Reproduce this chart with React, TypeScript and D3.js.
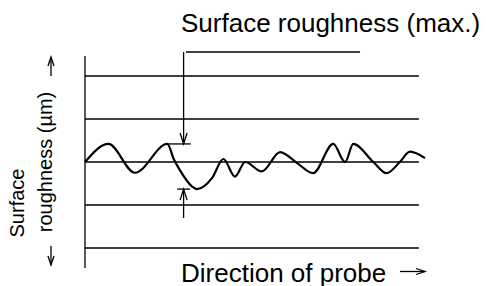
import React from 'react';
import * as d3 from 'd3';

// probe position (0..100) and surface height (grid units)
const probePos = [0, 6.9, 14.7, 24.2, 26.2, 27.9, 31.5, 33, 37.4, 40.7, 44.1, 47.1, 52, 57.4, 62.3, 67.1, 73, 76.5, 78.9, 84.8, 88.7, 92.6, 95.6, 100];
const profileHeight = [0, 0.42, -0.25, 0.42, 0.05, -0.19, -0.57, -0.63, -0.37, 0.07, -0.34, 0, -0.22, 0.23, -0.02, -0.26, 0.42, 0, 0.42, 0, -0.26, 0, 0.24, 0.09];

const gridLevels = [2, 1, 0, -1, -2];
const titleText = 'Surface roughness (max.)';
const xLabel = 'Direction of probe';
const yLabel1 = 'Surface';
const yLabel2 = 'roughness (\u00b5m)';

const W = 486, H = 286;
const FONT = '"Liberation Sans", Arial, sans-serif';

export default function App() {
  const x = d3.scaleLinear().domain([0, 100]).range([85, 425]);
  const y = d3.scaleLinear().domain([-2, 2]).range([248, 76]);

  const pts: [number, number][] = probePos.map((p, i) => [p, profileHeight[i]]);
  const line = d3.line<[number, number]>()
    .x(d => x(d[0]))
    .y(d => y(d[1]))
    .curve(d3.curveMonotoneX);

  const maxH = d3.max(profileHeight) as number;
  const minH = d3.min(profileHeight) as number;
  const markX = x(29);

  // open V arrow head, tip at (tx,ty), direction 'up' | 'down' | 'right'
  const head = (tx: number, ty: number, dir: string, len = 11, half = 3.5) => {
    if (dir === 'down') return `M${tx - half},${ty - len}L${tx},${ty}L${tx + half},${ty - len}`;
    if (dir === 'up') return `M${tx - half},${ty + len}L${tx},${ty}L${tx + half},${ty + len}`;
    return `M${tx - len},${ty - half}L${tx},${ty}L${tx - len},${ty + half}`;
  };

  return (
    <svg width={W} height={H} style={{ position: 'absolute', left: 0, top: 0, background: '#fff' }}>
      <g stroke="#000" fill="none">
        {/* vertical axis */}
        <line x1={x(0)} x2={x(0)} y1={56} y2={268} strokeWidth={1.3} />
        {gridLevels.map(l => (
          <line key={l} x1={x(0)} x2={x(98.2)} y1={y(l)} y2={y(l)} strokeWidth={1.3} />
        ))}

        {/* profile trace */}
        <path d={line(pts) || ''} strokeWidth={2.2} strokeLinejoin="round" />

        {/* max roughness markers */}
        <line x1={x(24.1)} x2={x(31.1)} y1={y(maxH)} y2={y(maxH)} strokeWidth={1.3} />
        <line x1={x(27.1)} x2={x(30.9)} y1={y(minH)} y2={y(minH)} strokeWidth={1.3} />
        <line x1={markX} x2={markX} y1={52} y2={y(maxH)} strokeWidth={1.3} />
        <path d={head(markX, y(maxH), 'down')} strokeWidth={1.3} />
        <line x1={markX} x2={markX} y1={218} y2={y(minH)} strokeWidth={1.3} />
        <path d={head(markX, y(minH), 'up')} strokeWidth={1.3} />
        <line x1={x(29.7)} x2={x(80.9)} y1={52} y2={52} strokeWidth={1.3} />

        {/* axis label arrows */}
        <line x1={400} x2={425} y1={271.5} y2={271.5} strokeWidth={1.3} />
        <path d={head(425, 271.5, 'right', 9, 3)} strokeWidth={1.3} />
        <line x1={51} x2={51} y1={76} y2={57} strokeWidth={1.3} />
        <path d={head(51, 57, 'up', 9, 3)} strokeWidth={1.3} />
        <line x1={51} x2={51} y1={246} y2={265} strokeWidth={1.3} />
        <path d={head(51, 265, 'down', 9, 3)} strokeWidth={1.3} />
      </g>

      <g fill="#000" fontFamily={FONT}>
        <text x={181} y={31.5} fontSize={26}>{titleText}</text>
        <text x={181} y={281.5} fontSize={26}>{xLabel}</text>
        <text transform="translate(24,203) rotate(-90)" textAnchor="middle" fontSize={20}>{yLabel1}</text>
        <text transform="translate(52,162) rotate(-90)" textAnchor="middle" fontSize={20}>{yLabel2}</text>
      </g>
    </svg>
  );
}
